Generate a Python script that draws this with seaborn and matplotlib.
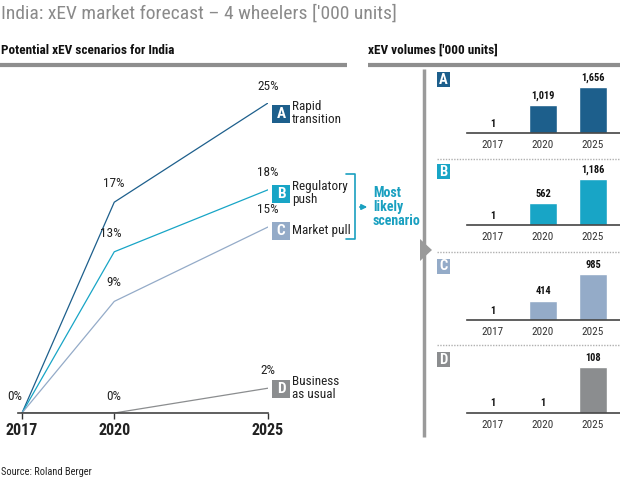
import pandas as pd
import seaborn as sns
import matplotlib.pyplot as plt
from matplotlib.patches import Rectangle, Polygon

# data
years = [2017, 2020, 2025]
scenarios = ["A", "B", "C", "D"]
scenario_names = ["Rapid\ntransition", "Regulatory\npush", "Market pull", "Business\nas usual"]
share_A = [0, 17, 25]
share_B = [0, 13, 18]
share_C = [0, 9, 15]
share_D = [0, 0, 2]
volume_A = [1, 1019, 1656]
volume_B = [1, 562, 1186]
volume_C = [1, 414, 985]
volume_D = [1, 1, 108]

shares = [share_A, share_B, share_C, share_D]
volumes = [volume_A, volume_B, volume_C, volume_D]
colors = ["#1d5f8c", "#18a5c6", "#94abc8", "#8b8d8f"]
teal = "#1aa0c0"
grey = "#8e8e8e"

sns.set_theme(style="white")
plt.rcParams["font.family"] = ["Roboto Condensed", "DejaVu Sans"]

W, H = 620, 480
fig = plt.figure(figsize=(6.2, 4.8), dpi=100)


def rect(x0, y0, x1, y1):
    # pixel box (top-left origin) -> figure fraction
    return [x0 / W, 1 - y1 / H, (x1 - x0) / W, (y1 - y0) / H]


# ---- left: scenario lines
ax = fig.add_axes(rect(18, 103, 268, 413))
df = pd.DataFrame({
    "year": years * 4,
    "share": sum(shares, []),
    "scenario": [s for s in scenarios for _ in years],
})
sns.lineplot(data=df, x="year", y="share", hue="scenario", palette=colors,
             linewidth=0.9, legend=False, ax=ax)
ax.set_xlim(2016.87, 2025)
ax.set_ylim(0, 25)
ax.set_xlabel("")
ax.set_ylabel("")
ax.set_yticks([])
ax.set_xticks(years)
ax.set_xticklabels([str(y) for y in years], fontsize=11.5, fontweight="bold", color="#222222")
ax.tick_params(axis="x", length=4, width=1, color="#333333", pad=3, bottom=True)
for s in ["top", "right", "left"]:
    ax.spines[s].set_visible(False)
ax.spines["bottom"].set_color("#444444")
ax.spines["bottom"].set_linewidth(1.2)
ax.patch.set_alpha(0)

# percentage labels
pct_offsets = [
    [(-7, 10), (0, 12), (0, 10)],
    [None, (-3, 12), (0, 11)],
    [None, (0, 12), (0, 11)],
    [None, (0, 10), (0, 11)],
]
for vals, offs in zip(shares, pct_offsets):
    for yr, v, off in zip(years, vals, offs):
        if off is None:
            continue
        ax.annotate(f"{v}%", (yr, v), xytext=off, textcoords="offset pixels",
                    ha="center", va="bottom", fontsize=9.5, color="#222222",
                    annotation_clip=False)

# overlay in pixel coordinates
ov = fig.add_axes([0, 0, 1, 1])
ov.set_xlim(0, W)
ov.set_ylim(H, 0)
ov.axis("off")
ov.patch.set_alpha(0)

fig.canvas.draw()
badge_dy = [11, 4, 4, 1]
for s, name, vals, c, dy in zip(scenarios, scenario_names, shares, colors, badge_dy):
    px, py = ax.transData.transform((years[-1], vals[-1]))
    py = H - py
    cy = py + dy
    ov.add_patch(Rectangle((px + 4, cy - 9), 18, 18, color=c, lw=0))
    ov.text(px + 13, cy, s, ha="center", va="center", color="white",
            fontsize=11, fontweight="bold")
    ov.text(px + 24, cy - 1, name, ha="left", va="center", fontsize=9.5,
            color="#222222", linespacing=1.0)

# bracket + most likely
ov.plot([346, 355, 355, 346], [174, 174, 239, 239], color=teal, lw=1.2)
ov.annotate("", xy=(370, 207), xytext=(357, 207),
            arrowprops=dict(arrowstyle="-|>", color=teal, lw=1.2, mutation_scale=8))
ov.text(373, 207, "Most\nlikely\nscenario", ha="left", va="center", fontsize=10,
        fontweight="bold", color=teal, linespacing=1.0)

# titles and header rules
ov.text(1, 14, "India: xEV market forecast \u2013 4 wheelers ['000 units]", ha="left",
        va="center", fontsize=14, color="#8a8a8a")
ov.text(1, 50, "Potential xEV scenarios for India", ha="left", va="center",
        fontsize=9.5, fontweight="bold", color="#111111")
ov.text(368, 50, "xEV volumes ['000 units]", ha="left", va="center",
        fontsize=9.5, fontweight="bold", color="#111111")
ov.plot([0, 347], [65, 65], color=grey, lw=3, solid_capstyle="butt")
ov.plot([368, 620], [65, 65], color=grey, lw=3, solid_capstyle="butt")
ov.plot([424, 424], [69, 437], color="#9a9a9a", lw=2.5, solid_capstyle="butt")
ov.add_patch(Polygon([(420, 239), (432, 250), (420, 261)], closed=True, color="#9a9a9a", lw=0))
for y in [159, 252, 345]:
    ov.plot([437, 620], [y, y], color="#b0b0b0", lw=1, ls=(0, (1, 1)))
ov.text(1, 472, "Source: Roland Berger", ha="left", va="center", fontsize=7.5, color="#222222")

# ---- right: volume bars
baselines = [133, 225, 320, 413]
for s, vals, c, base in zip(scenarios, volumes, colors, baselines):
    bx = fig.add_axes(rect(467, base - 46, 620, base))
    bdf = pd.DataFrame({"year": [str(y) for y in years], "volume": vals})
    sns.barplot(data=bdf, x="year", y="volume", color=c, saturation=1, width=0.56, ax=bx)
    bx.set_xlim(-0.52, 2.54)
    bx.set_ylim(0, max(vals))
    bx.set_xlabel("")
    bx.set_ylabel("")
    bx.set_yticks([])
    bx.tick_params(axis="x", length=0, pad=5, labelsize=8, labelcolor="#333333")
    for sp in ["top", "right", "left"]:
        bx.spines[sp].set_visible(False)
    bx.spines["bottom"].set_color("#444444")
    bx.spines["bottom"].set_linewidth(1.2)
    bx.patch.set_alpha(0)
    bx.bar_label(bx.containers[0], labels=[f"{v:,}" for v in vals], padding=3,
                 fontsize=7.5, fontweight="bold", color="#111111")
    ov.add_patch(Rectangle((437, base - 61), 13, 15, color=c, lw=0))
    ov.text(443.5, base - 53.5, s, ha="center", va="center", color="white",
            fontsize=10.5, fontweight="bold")

fig.savefig("out.png", dpi=100)
